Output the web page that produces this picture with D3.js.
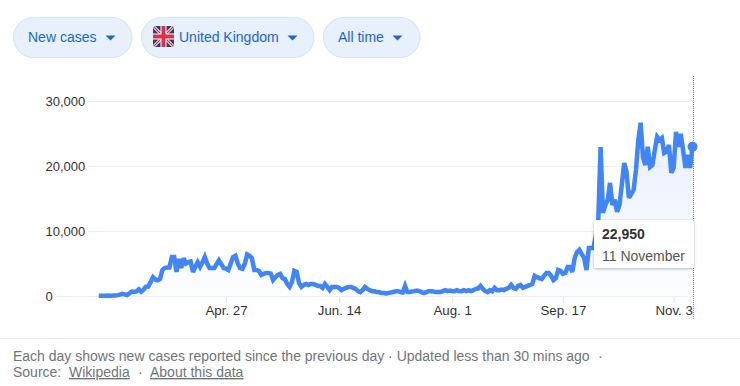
<!DOCTYPE html>
<html>
<head>
<meta charset="utf-8">
<script src="https://cdnjs.cloudflare.com/ajax/libs/d3/7.8.5/d3.min.js"></script>
<style>
  html, body { margin: 0; padding: 0; background: #fff; }
  svg { display: block; font-family: "Liberation Sans", Arial, sans-serif; }
</style>
</head>
<body>
<svg id="chart" width="740" height="386"></svg>
<script>
// Daily new cases, first value is 4 March
const startDate = new Date(2020, 2, 4);
const newCases = [
  30, 30, 50, 50, 70, 50, 60, 80, 130, 210,
  340, 250, 150, 400, 680, 640, 710, 1030, 670, 970,
  1430, 1450, 2130, 2890, 2550, 2430, 2620, 4000, 4300, 4400,
  4400, 6000, 6000, 3700, 5700, 4300, 5800, 5000, 5200, 5300,
  3700, 4500, 5200, 4500, 5200, 6000, 5000, 4300, 4300, 4300,
  4900, 5500, 4900, 4300, 4200, 4000, 5000, 6000, 6200, 5000,
  4300, 4200, 5000, 6400, 6200, 5800, 4000, 4000, 3850, 3250,
  3400, 3550, 3550, 3450, 2450, 2900, 3250, 3400, 2750, 2600,
  1850, 1400, 2150, 3850, 3700, 2000, 1400, 1700, 1850, 1700,
  1850, 1850, 1700, 1550, 1550, 1250, 1850, 1400, 900, 1400,
  1400, 1400, 1250, 900, 1100, 1250, 1400, 1400, 1250, 1100,
  750, 600, 900, 1400, 1100, 900, 750, 750, 600, 600,
  450, 450, 400, 450, 550, 600, 750, 750, 600, 550,
  1550, 600, 600, 700, 750, 850, 750, 600, 450, 600,
  750, 750, 700, 600, 600, 600, 750, 900, 750, 850,
  750, 750, 900, 750, 750, 900, 750, 900, 750, 900,
  1100, 1150, 1550, 1100, 750, 600, 900, 750, 1250, 900,
  900, 1000, 900, 1100, 1250, 1700, 1250, 1100, 1550, 1700,
  1250, 1400, 1550, 1700, 1850, 3100, 2900, 2750, 2600, 3100,
  3550, 3550, 3100, 2450, 2750, 4000, 3850, 3400, 3550, 4450,
  4450, 3700, 5850, 6750, 7100, 6450, 5850, 4000, 7400, 7400,
  7400, 9400, 11700, 22900, 12800, 14000, 14800, 17400, 14000, 14800,
  12950, 14000, 17100, 20450, 19100, 15100, 15700, 16300, 19400, 24000,
  26650, 21250, 20150, 22950, 19850, 20150, 22500, 24500, 24000, 24300,
  22000, 22200, 23250, 18950, 19700, 25250, 22950, 24950, 22500, 19700,
  21700, 19700, 22950
];
const yTicks = [0, 10000, 20000, 30000];
const xTickDates = [[3, 27], [5, 14], [7, 1], [8, 17], [10, 3]];
const xTickLabels = ["Apr. 27", "Jun. 14", "Aug. 1", "Sep. 17", "Nov. 3"];
const pills = ["New cases", "United Kingdom", "All time"];
const tooltipValue = "22,950";
const tooltipDate = "11 November";

const svg = d3.select('#chart');
const series = newCases.map((v, i) => ({ date: d3.timeDay.offset(startDate, i), value: v }));
const last = series[series.length - 1];
const tickDates = xTickDates.map(d => new Date(2020, d[0], d[1]));

// Scales
const xScale = d3.scaleTime()
  .domain([tickDates[0], last.date])
  .range([226, 692.5]);
const yScale = d3.scaleLinear()
  .domain([0, 30000])
  .range([296, 101]);

const blue = '#4285f4';
const labelLeft = 45.5;

// Filter pills along the top
const pillBoxes = [
  { x: 13.5, w: 118.5, textX: 28, arrowX: 110.5 },
  { x: 141.5, w: 172.5, textX: 179, arrowX: 292.5 },
  { x: 323.5, w: 96.5, textX: 338, arrowX: 397.5 }
];
const pillGroup = svg.append('g');
pills.forEach((label, i) => {
  const b = pillBoxes[i];
  pillGroup.append('rect')
    .attr('x', b.x).attr('y', 17.5)
    .attr('width', b.w).attr('height', 40)
    .attr('rx', 20)
    .attr('fill', '#e8f0fc')
    .attr('stroke', '#d2e3fc');
  pillGroup.append('text')
    .attr('x', b.textX).attr('y', 42)
    .attr('font-size', 14)
    .attr('fill', '#1967d2')
    .text(label);
  pillGroup.append('path')
    .attr('d', `M${b.arrowX - 5},35.5 h10 l-5,5 z`)
    .attr('fill', '#1967d2');
});

// Union flag
const flag = svg.append('g').attr('transform', 'translate(153,26)');
const defs = svg.append('defs');
defs.append('clipPath').attr('id', 'flag-clip')
  .append('rect').attr('width', 21).attr('height', 21).attr('rx', 3);
const fg = flag.append('g').attr('clip-path', 'url(#flag-clip)');
fg.append('rect').attr('width', 21).attr('height', 21).attr('fill', '#27407f');
fg.append('path').attr('d', 'M0,0 L21,21 M21,0 L0,21').attr('stroke', '#fff').attr('stroke-width', 3);
fg.append('path').attr('d', 'M0,0 L21,21 M21,0 L0,21').attr('stroke', '#d8334a').attr('stroke-width', 1.3);
fg.append('path').attr('d', 'M10.5,0 V21 M0,10.5 H21').attr('stroke', '#fff').attr('stroke-width', 6);
fg.append('path').attr('d', 'M10.5,0 V21 M0,10.5 H21').attr('stroke', '#d8334a').attr('stroke-width', 4);

// Axes: the y labels are left aligned, each gridline starts where its label ends
const yAxis = d3.axisLeft(yScale)
  .tickValues(yTicks)
  .tickSize(0)
  .tickPadding(0)
  .tickFormat(d3.format(','));
const yG = svg.append('g')
  .attr('transform', `translate(${labelLeft},0)`)
  .call(yAxis);
yG.select('.domain').remove();
yG.attr('text-anchor', 'start');
yG.selectAll('text').attr('font-size', 13).attr('fill', '#333').attr('font-family', 'inherit');

yG.selectAll('.tick').each(function(d) {
  const w = d3.select(this).select('text').node().getComputedTextLength();
  svg.insert('line', ':first-child')
    .attr('x1', labelLeft + w + 3).attr('x2', 693)
    .attr('y1', yScale(d) + 0.5).attr('y2', yScale(d) + 0.5)
    .attr('stroke', '#eeeeee');
});

const xAxis = d3.axisBottom(xScale)
  .tickValues(tickDates)
  .tickSize(6)
  .tickPadding(3)
  .tickFormat((d, i) => xTickLabels[i]);
const xG = svg.append('g')
  .attr('transform', 'translate(0,297)')
  .call(xAxis);
xG.select('.domain').remove();
xG.selectAll('line').attr('stroke', '#e4e4e4');
xG.selectAll('text').attr('font-size', 13.3).attr('fill', '#333').attr('font-family', 'inherit');

// Area under the line
const grad = defs.append('linearGradient')
  .attr('id', 'area-fade')
  .attr('x1', 0).attr('y1', 0).attr('x2', 0).attr('y2', 1);
grad.append('stop').attr('offset', '0%').attr('stop-color', '#e8f0fe').attr('stop-opacity', 1);
grad.append('stop').attr('offset', '100%').attr('stop-color', '#e8f0fe').attr('stop-opacity', 0.1);

const area = d3.area()
  .x(d => xScale(d.date))
  .y0(yScale(0))
  .y1(d => yScale(d.value));
svg.append('path')
  .datum(series)
  .attr('d', area)
  .attr('fill', 'url(#area-fade)');

// Dotted marker for the hovered day
svg.append('line')
  .attr('x1', 693.5).attr('x2', 693.5)
  .attr('y1', 76).attr('y2', 320)
  .attr('stroke', '#8a8a8a')
  .attr('stroke-dasharray', '1,1');

const line = d3.line()
  .x(d => xScale(d.date))
  .y(d => yScale(d.value));
svg.append('path')
  .datum(series)
  .attr('d', line)
  .attr('fill', 'none')
  .attr('stroke', blue)
  .attr('stroke-width', 4.5)
  .attr('stroke-linejoin', 'miter')
  .attr('stroke-miterlimit', 3);

svg.append('circle')
  .attr('cx', xScale(last.date))
  .attr('cy', yScale(last.value))
  .attr('r', 5)
  .attr('fill', blue);

// Tooltip
defs.append('filter').attr('id', 'tip-shadow')
  .attr('x', '-20%').attr('y', '-20%').attr('width', '140%').attr('height', '150%')
  .append('feDropShadow')
  .attr('dx', 0).attr('dy', 1).attr('stdDeviation', 1.6)
  .attr('flood-color', '#000').attr('flood-opacity', 0.28);
const tip = svg.append('g');
tip.append('rect')
  .attr('x', 594).attr('y', 220)
  .attr('width', 100).attr('height', 48)
  .attr('rx', 2)
  .attr('fill', '#fff')
  .attr('filter', 'url(#tip-shadow)');
tip.append('text')
  .attr('x', 602).attr('y', 239)
  .attr('font-size', 14).attr('font-weight', 'bold').attr('fill', '#333')
  .text(tooltipValue);
tip.append('text')
  .attr('x', 602).attr('y', 261)
  .attr('font-size', 14).attr('fill', '#555')
  .text(tooltipDate);

// Footer
svg.append('line')
  .attr('x1', 0).attr('x2', 740)
  .attr('y1', 338.5).attr('y2', 338.5)
  .attr('stroke', '#e8e8e8');
const footer = svg.append('g').attr('font-size', 14).attr('fill', '#70757a');
footer.append('text').attr('x', 13).attr('y', 361)
  .text('Each day shows new cases reported since the previous day · Updated less than 30 mins ago');
footer.append('text').attr('x', 598).attr('y', 361).text('·');
footer.append('text').attr('x', 13).attr('y', 377).text('Source:');
footer.append('text').attr('x', 69).attr('y', 377).attr('text-decoration', 'underline').text('Wikipedia');
footer.append('text').attr('x', 138).attr('y', 377).text('·');
footer.append('text').attr('x', 150).attr('y', 377).attr('text-decoration', 'underline').text('About this data');
</script>
</body>
</html>
